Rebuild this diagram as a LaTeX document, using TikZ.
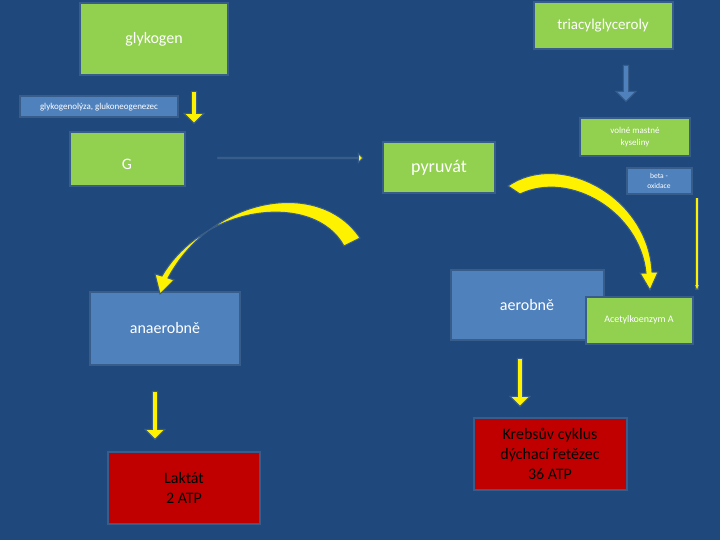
\documentclass[tikz,border=0pt]{standalone}
\usepackage{fontspec}
\setmainfont{Carlito}
\usetikzlibrary{shapes.arrows,arrows.meta}
\definecolor{bgblue}{HTML}{1F497D}
\definecolor{boxgreen}{HTML}{92D050}
\definecolor{boxblue}{HTML}{4F81BD}
\definecolor{boxred}{HTML}{C00000}
\definecolor{edgeblue}{HTML}{385D8A}
\newcommand{\fs}[1]{\fontsize{#1}{1.25\dimexpr#1pt\relax}\selectfont}
\tikzset{
    box/.style = {
        draw = edgeblue,
        line width = 2pt,
        inner sep = 0pt,
        align = center,
        },
    green box/.style = {
        box,
        fill = boxgreen,
        text = white,
        },
    blue box/.style = {
        box,
        fill = boxblue,
        text = white,
        },
    red box/.style = {
        box,
        fill = boxred,
        text = black,
        },
    down arrow/.style = {
        single arrow,
        shape border rotate = 270,
        draw = edgeblue,
        line width = 1pt,
        fill = yellow,
        minimum height = 32pt,
        minimum width = 20pt,
        single arrow head extend = 7pt,
        single arrow tip angle = 90,
        inner sep = 2pt,
        },
    curve arrow/.style = {
        fill = yellow,
        draw = edgeblue,
        line width = 1pt,
        },
}
\begin{document}
\begin{tikzpicture}[x=1pt, y=-1pt]
    \fill[bgblue] (0,0) rectangle (720,540);
    \useasboundingbox (0,0) rectangle (720,540);

    \node[green box, minimum width=148pt, minimum height=72pt, font=\fs{16}] (glykogen) at (154,39) {\raisebox{-4pt}{glykogen}};
    \node[green box, minimum width=139pt, minimum height=47pt, font=\fs{15}] (tag) at (603,26) {triacylglyceroly};
    \node[blue box, minimum width=158pt, minimum height=21pt, font=\fs{9}] (lyza) at (99,107) {glykogenolýza, glukoneogenezec};
    \node[green box, minimum width=110pt, minimum height=38pt, font=\fs{9}] (mk) at (635,137) {volné mastné\\kyseliny};
    \node[green box, minimum width=115pt, minimum height=54pt, font=\fs{16}] (G) at (127,159) {\raisebox{0pt}[22pt][0pt]{G}};
    \node[green box, minimum width=112pt, minimum height=51pt, font=\fs{18}] (pyr) at (439,168) {pyruvát};
    \node[blue box, minimum width=65pt, minimum height=26pt, font=\fs{7.5}] (beta) at (659,181) {beta -\\oxidace};
    \node[blue box, minimum width=150pt, minimum height=73pt, font=\fs{16}] (anaer) at (165,328) {anaerobně};
    \node[blue box, minimum width=153pt, minimum height=70pt, font=\fs{16}] (aer) at (527,305) {aerobně};
    \node[green box, minimum width=107pt, minimum height=47pt, font=\fs{10}] (acetyl) at (639,320) {Acetylkoenzym A};
    \node[red box, minimum width=152pt, minimum height=72pt, font=\fs{16}] (laktat) at (184,488) {Laktát\\2 ATP};
    \node[red box, minimum width=153pt, minimum height=72pt, font=\fs{16}] (krebs) at (550,454) {Krebsův cyklus\\dýchací řetězec\\36 ATP};

    % block arrows
    \node[down arrow, fill=boxblue, minimum height=36pt] (a1) at (626,82) {};
    \node[down arrow] (a2) at (194,106) {};
    \node[down arrow, minimum height=48pt] (a3) at (155,414) {};
    \node[down arrow, minimum height=48pt] (a4) at (520,381) {};
    \node[single arrow, draw=edgeblue, fill=yellow, line width=1pt, minimum height=145pt,
          minimum width=9pt, single arrow head extend=3pt, inner sep=0pt] (a5) at (290,158) {};

    % thin arrow beside beta-oxidace
    \coordinate (b1) at (697,198);
    \coordinate (b2) at (697,290);
    \draw[edgeblue, line width=4pt] (b1) -- (b2);
    \draw[yellow, line width=2pt, -{Latex[length=5pt]}] (b1) -- (b2);

    % curved arrows
    \filldraw[curve arrow] (360,238) .. controls (320,178) and (212,196) .. (168,278)
        -- (174,280) -- (160,294) -- (155,274) -- (162,276)
        .. controls (205,203) and (315,192) .. (344,246) -- cycle;
    \filldraw[curve arrow] (508,186) .. controls (560,150) and (648,196) .. (652,272)
        -- (658,272) -- (650,290) -- (640,273) -- (646,273)
        .. controls (640,212) and (570,170) .. (520,194) -- cycle;
\end{tikzpicture}
\end{document}
